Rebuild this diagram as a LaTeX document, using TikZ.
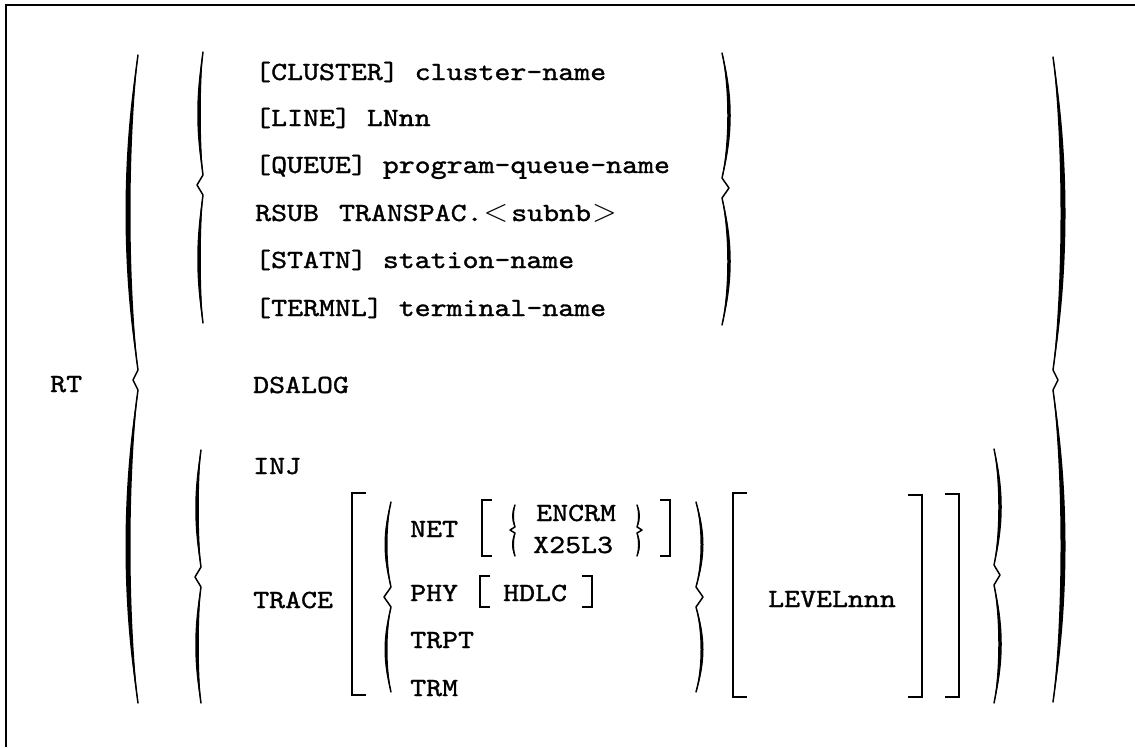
\documentclass[tikz,border=0pt]{standalone}
\usepackage{fontspec}
\usepackage{graphicx}
\newfontfamily\tw{lmmono10-regular}[Extension=.otf, FakeStretch=1.16, FakeBold=1.2]
\tikzset{
  txt/.style={anchor=base west, inner sep=0pt, font=\tw\fontsize{26.2}{30}\selectfont},
  brk/.style={line width=2.6pt, line join=miter, line cap=butt},
  bracestroke/.style={line width=1.5pt, line join=round, line cap=round},
  frame/.style={line width=2.6pt},
}
% brace: #1 base x, #2 top y, #3 bottom y, #4 tip y, #5 side (-1 left, 1 right), #6 bow, #7 tip offset, #8 thickness
\newcommand\brc[8]{%
 \pgfmathsetmacro\bcA{#1+(#5)*(#6)/0.75}%
 \pgfmathsetmacro\bcAo{#1+(#5)*(#6+#8/2)/0.75}%
 \pgfmathsetmacro\bcAi{#1+(#5)*(#6-#8/2)/0.75}%
 \pgfmathsetmacro\bxT{#1+(#5)*(#7)}%
 \pgfmathsetmacro\bhA{#4-#2}%
 \pgfmathsetmacro\bhB{#3-#4}%
 \pgfmathsetmacro\bgap{min(10,0.06*(#3-#2))}%
 \pgfmathsetmacro\buA{#2+0.3*\bhA}\pgfmathsetmacro\bvA{#4-\bgap-0.3*\bhA}%
 \pgfmathsetmacro\buB{#4+\bgap+0.3*\bhB}\pgfmathsetmacro\bvB{#3-0.3*\bhB}%
 \pgfmathsetmacro\byN{#4-\bgap}\pgfmathsetmacro\byS{#4+\bgap}%
 \draw[bracestroke] (#1,#2) .. controls (\bcA,\buA) and (\bcA,\bvA) .. (#1,\byN) -- (\bxT,#4) -- (#1,\byS) .. controls (\bcA,\buB) and (\bcA,\bvB) .. (#1,#3);
 \fill (#1,#2) .. controls (\bcAo,\buA) and (\bcAo,\bvA) .. (#1,\byN) .. controls (\bcAi,\bvA) and (\bcAi,\buA) .. (#1,#2) -- cycle;
 \fill (#1,\byS) .. controls (\bcAo,\buB) and (\bcAo,\bvB) .. (#1,#3) .. controls (\bcAi,\bvB) and (\bcAi,\buB) .. (#1,\byS) -- cycle;
}
\begin{document}
\begin{tikzpicture}[x=1pt,y=-1pt]
\useasboundingbox (0,0) rectangle (1135,747);
\fill[white] (0,0) rectangle (1135,747);
% frame
\draw[frame] (6,747) -- (6,5) -- (1135,5);
% texts
\node[txt] (rt) at (50,392) {RT};
\node[txt] (r1) at (255,80) {[CLUSTER] cluster-name};
\node[txt] (r2) at (255,126) {[LINE] LNnn};
\node[txt] (r3) at (255,173) {[QUEUE] program-queue-name};
\node[txt] (r4) at (255,221) {RSUB\hspace{20pt}TRANSPAC.\hspace{1pt}\scalebox{1.3}{$<$}\hspace{3pt}subnb\hspace{1pt}\scalebox{1.3}{$>$}};
\node[txt] (r5) at (255,268) {[STATN] station-name};
\node[txt] (r6) at (255,316) {[TERMNL] terminal-name};
\node[txt] (dsalog) at (253,393) {DSALOG};
\node[txt] (inj) at (253,474) {INJ};
\node[txt] (trace) at (253,608) {TRACE};
\node[txt] (net) at (410,537) {NET};
\node[txt] (phy) at (410,601) {PHY};
\node[txt] (trpt) at (410,648) {TRPT};
\node[txt] (trm) at (410,696) {TRM};
\node[txt] (encrm) at (536,521) {ENCRM};
\node[txt] (x25) at (533,553) {X25L3};
\node[txt] (hdlc) at (503,601) {HDLC};
\node[txt] (level) at (768,607) {LEVELnnn};
% braces
\brc{138}{55}{703}{380}{-1}{10}{5}{5}
\brc{1053}{57}{702}{380}{1}{10}{5}{5}
\brc{203}{52}{323}{185}{-1}{4}{6}{3.5}
\brc{722}{53}{325}{188}{1}{7}{7}{3.5}
\brc{201}{450}{703}{577}{-1}{4}{6}{3.5}
\brc{994}{449}{703}{575}{1}{6}{6}{3.5}
\brc{391}{502}{692}{597}{-1}{5}{7}{3}
\brc{696}{502}{692}{597}{1}{6}{7}{3}
\brc{515}{505}{556}{530}{-1}{2}{5}{2}
\brc{637}{505}{556}{530}{1}{2}{5}{2}
% square brackets
\draw[brk] (366,493) -- (352,493) -- (352,695) -- (366,695);
\draw[brk] (492,500) -- (482,500) -- (482,556) -- (492,556);
\draw[brk] (660,500) -- (670,500) -- (670,556) -- (660,556);
\draw[brk] (490,576) -- (480,576) -- (480,607) -- (490,607);
\draw[brk] (582,576) -- (592,576) -- (592,607) -- (582,607);
\draw[brk] (747,493) -- (733,493) -- (733,697) -- (747,697);
\draw[brk] (908,495) -- (922,495) -- (922,697) -- (908,697);
\draw[brk] (945,494) -- (959,494) -- (959,697) -- (945,697);
\end{tikzpicture}
\end{document}
